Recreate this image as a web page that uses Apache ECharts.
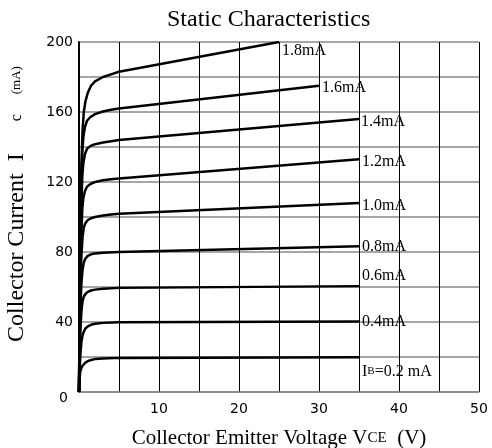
<!DOCTYPE html>
<html><head><meta charset="utf-8">
<script src="https://cdn.jsdelivr.net/npm/echarts@6/dist/echarts.min.js"></script>
<style>html,body{margin:0;padding:0;background:#fff}#c{width:492px;height:448px}</style>
</head><body><div id="c"></div>
<script>
// Base current labels
const curveLabels = ['1.8mA','1.6mA','1.4mA','1.2mA','1.0mA','0.8mA','0.6mA','0.4mA','IB=0.2 mA'];
// Tick labels
const xTickLabels = [10,20,30,40,50];
const yTickLabels = [0,40,80,120,160,200];
// Curves: [VCE (V), IC (mA)]
const ib18 = [[0,0],[0.08,50],[0.18,100],[0.3,130],[0.45,150],[0.6,160],[0.8,166],[1.1,171],[1.5,175],[2,177.5],[3,180],[4,181.5],[5,183],[25,200]];
const ib16 = [[0,0],[0.08,45],[0.18,90],[0.3,120],[0.42,137],[0.55,146],[0.75,151.5],[1,155],[1.4,157],[2,158.8],[3,160.3],[4,161.3],[5,162],[30,175]];
const ib14 = [[0,0],[0.08,40],[0.18,80],[0.3,108],[0.42,124],[0.55,131],[0.75,136],[1,139],[1.4,140.5],[2,141.6],[3,142.6],[4,143.3],[5,144],[35,156]];
const ib12 = [[0,0],[0.08,35],[0.18,70],[0.3,92],[0.42,105],[0.55,111],[0.75,115],[1,117.3],[1.4,118.8],[2,120],[3,121],[4,121.6],[5,122],[35,133]];
const ib10 = [[0,0],[0.08,30],[0.18,60],[0.3,78],[0.45,89],[0.6,94],[0.8,96.5],[1.1,98.3],[1.5,99.3],[2,100],[3,100.8],[4,101.4],[5,101.8],[35,108]];
const ib08 = [[0,0],[0.08,25],[0.18,48],[0.3,62],[0.45,70],[0.6,74],[0.8,76.3],[1.1,77.8],[1.5,78.7],[2,79.2],[3,79.6],[5,80],[35,83.3]];
const ib06 = [[0,0],[0.08,20],[0.18,36],[0.3,46],[0.45,52],[0.6,54.5],[0.8,56],[1.1,57.2],[1.5,58],[2,58.5],[3,59],[5,59.5],[35,60.5]];
const ib04 = [[0,0],[0.08,12],[0.18,22],[0.3,28.5],[0.45,32.5],[0.6,34.5],[0.8,36.3],[1.1,37.5],[1.5,38.4],[2,39],[3,39.5],[5,39.9],[35,40.3]];
const ib02 = [[0,0],[0.06,7],[0.15,11.5],[0.3,13.8],[0.45,15],[0.6,15.9],[0.8,16.8],[1.1,17.6],[1.5,18.3],[2,18.8],[3,19.2],[5,19.5],[35,19.8]];

const curves = [ib18, ib16, ib14, ib12, ib10, ib08, ib06, ib04, ib02];
const labelOffsets = [[0,9],[0,2],[-1,3],[0,3],[0,3],[0,1],[0,-10],[0,0],[0,14]];

const serif = '"Liberation Serif", "Times New Roman", serif';
const sans = '"DejaVu Sans", sans-serif';

const series = curves.map((d, i) => ({
  type: 'line',
  data: d,
  symbol: 'none',
  smooth: false,
  lineStyle: { color: '#000', width: 2.5, join: 'round' },
  silent: true,
  endLabel: {
    show: true,
    distance: 3,
    offset: labelOffsets[i],
    formatter: i === 8 ? '{i|I}{s|B}{i|=0.2 mA}' : curveLabels[i],
    fontFamily: serif,
    fontSize: 16,
    color: '#000',
    rich: {
      i: { fontFamily: serif, fontSize: 16, color: '#000' },
      s: { fontFamily: serif, fontSize: 11, color: '#000' }
    }
  }
}));

const chart = echarts.init(document.getElementById('c'), null, { renderer: 'canvas' });
chart.setOption({
  animation: false,
  backgroundColor: '#fff',
  title: {
    text: 'Static Characteristics',
    left: 162, top: 3,
    textStyle: { fontFamily: serif, fontSize: 24, fontWeight: 'normal', color: '#000' }
  },
  grid: { left: 79, right: 13, top: 42, bottom: 56, containLabel: false, outerBoundsMode: 'none' },
  xAxis: {
    type: 'value', min: 0, max: 50, interval: 5,
    axisLine: { show: true, lineStyle: { color: '#888', width: 1.5 } },
    axisTick: { show: false },
    splitLine: { show: true, lineStyle: { color: '#000', width: 1 } },
    axisLabel: {
      margin: 10, fontFamily: sans, fontSize: 14, color: '#000',
      formatter: v => xTickLabels.includes(v) ? String(v) : ''
    },
    name: '{a|Collector Emitter Voltage V}{b|CE}{a|  (V)}',
    nameLocation: 'middle', nameGap: 36,
    nameTextStyle: {
      rich: {
        a: { fontFamily: serif, fontSize: 21, color: '#000' },
        b: { fontFamily: serif, fontSize: 15, color: '#000' }
      }
    }
  },
  yAxis: {
    type: 'value', min: 0, max: 200, interval: 20,
    axisLine: { show: true, lineStyle: { color: '#000', width: 2 } },
    axisTick: { show: false },
    splitLine: { show: true, lineStyle: { color: '#888', width: 1.5 } },
    axisLabel: {
      margin: 6, fontFamily: sans, fontSize: 14, color: '#000',
      formatter: v => v === 0 ? '{z|0}' : (yTickLabels.includes(v) ? String(v) : ''),
      rich: {
        z: { fontFamily: sans, fontSize: 14, color: '#000', padding: [12, 5, 0, 0] }
      }
    },
    name: '{a|Collector Current  I}{b|c}{c|(mA)}',
    nameLocation: 'middle', nameGap: 50, nameRotate: 90,
    nameTextStyle: {
      padding: [0, 0, 0, 26],
      rich: {
        a: { fontFamily: serif, fontSize: 24, color: '#000' },
        b: { fontFamily: serif, fontSize: 16, color: '#000', padding: [0, 0, 0, 32] },
        c: { fontFamily: serif, fontSize: 13, color: '#000', padding: [0, 0, 0, 20] }
      }
    }
  },
  series: series
});
</script></body></html>
